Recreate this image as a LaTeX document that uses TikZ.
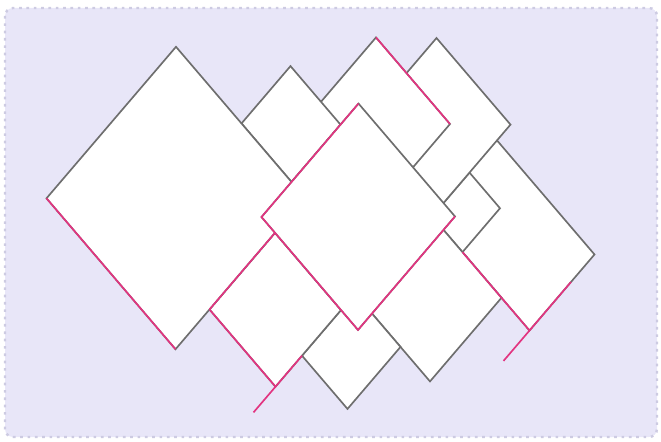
\documentclass[tikz,border=0pt]{standalone}
\usepackage{tikz}

\definecolor{bgpurple}{RGB}{232,230,248}
\definecolor{bgdash}{RGB}{205,203,226}
\definecolor{edgegray}{RGB}{110,110,110}
\definecolor{edgepink}{RGB}{226,52,128}

\tikzset{
    piece/.style={draw=edgegray, fill=white, line width=1.25pt, line join=miter},
    pinkline/.style={draw=edgepink, line width=1.25pt, line cap=butt},
    frame/.style={fill=bgpurple, draw=bgdash, line width=1.8pt,
        dash pattern=on 2pt off 3.5pt, rounded corners=6pt}
}

\begin{document}
\begin{tikzpicture}
    % 画布大小与原图一致
    \useasboundingbox (0pt,0pt) rectangle (495.75pt,-331.5pt);
    \path[frame] (3.75pt,-6pt) rectangle (492.75pt,-327.75pt);

    % 斜坐标: x 轴向右下, y 轴向右上
    \begin{scope}[x={(0.375pt,-0.43875pt)}, y={(0.375pt,0.43875pt)}]
        % 纸片(从下往上叠放)
        \draw[piece] (560,247) -- (812,247) -- (812,377) -- (560,377) -- cycle;
        \draw[piece] (617,247) -- (678,247) -- (678,322) -- (617,322) -- cycle;
        \draw[piece] (469,220) -- (617,220) -- (617,404) -- (469,404) -- cycle;
        \draw[piece] (408,180) -- (556,180) -- (556,344) -- (408,344) -- cycle;
        \draw[piece] (347,136) -- (447,136) -- (447,234) -- (347,234) -- cycle;
        \draw[piece] (560,104) -- (756,104) -- (756,247) -- (560,247) -- cycle;
        \draw[piece] (606,-2) -- (697,-2) -- (697,104) -- (606,104) -- cycle;
        \draw[piece] (474,-55) -- (606,-55) -- (606,76) -- (474,76) -- cycle;
        \draw[piece] (216,-123) -- (474,-123) -- (474,136) -- (216,136) -- cycle;
        \draw[piece] (447,76) -- (640,76) -- (640,270) -- (447,270) -- cycle;

        % 红色的边
        \draw[pinkline] (216,-123) -- (474,-123);
        \draw[pinkline] (474,-55) -- (474,76);
        \draw[pinkline] (474,-55) -- (606,-55);
        \draw[pinkline] (606,-99) -- (606,-2);
        \draw[pinkline] (447,270) -- (447,76) -- (640,76) -- (640,270);
        \draw[pinkline] (408,344) -- (556,344);
        \draw[pinkline] (678,247) -- (812,247);
        \draw[pinkline] (812,195) -- (812,330);
    \end{scope}
\end{tikzpicture}
\end{document}
